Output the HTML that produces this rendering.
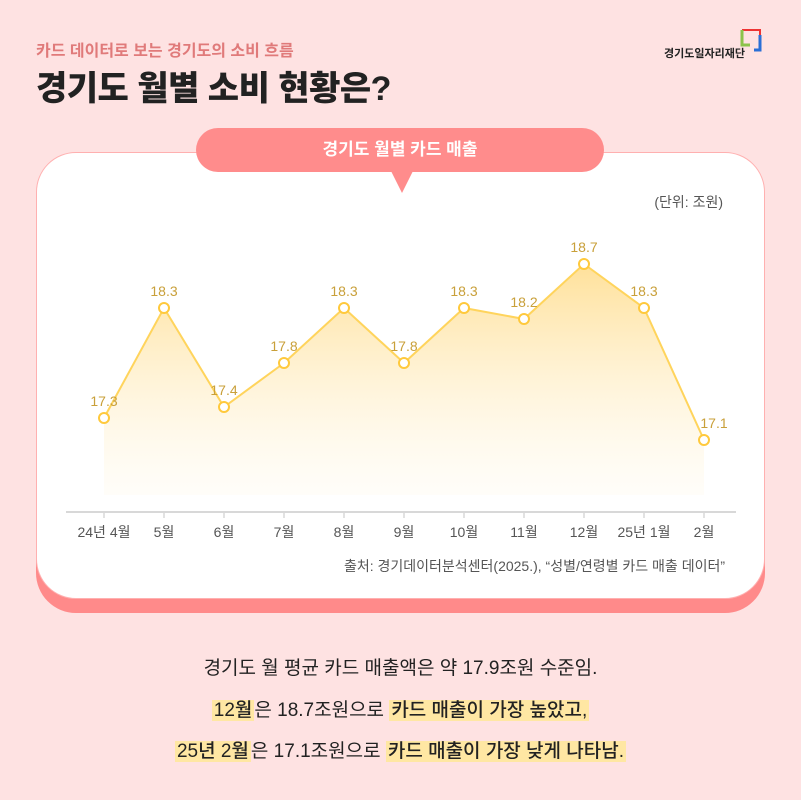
<!DOCTYPE html>
<html><head><meta charset="utf-8">
<style>
body{margin:0;width:801px;height:800px;background:#fee2e2;position:relative;overflow:hidden;font-family:"Liberation Sans","Noto Sans CJK KR",sans-serif;}
.abs{position:absolute;}
.hl{background:#ffe7a3;padding:0 2px;font-weight:500;}
.bt{position:absolute;left:0;width:801px;text-align:center;font-size:19px;color:#222;}
</style></head><body>
<div class="abs" style="left:36px;top:37px;font-size:16px;font-weight:bold;color:#e07a7a;">카드 데이터로 보는 경기도의 소비 흐름</div>
<div class="abs" style="left:36px;top:61px;font-size:34px;font-weight:900;color:#222;letter-spacing:-0.5px;">경기도 월별 소비 현황은?</div>
<div class="abs" style="left:660px;top:27px;width:110px;height:40px;">
<svg width="110" height="40"><path d="M82 3H100V8" stroke="#e33" stroke-width="2" fill="none"/><path d="M82 3V18H90" stroke="#8bc34a" stroke-width="3" fill="none"/><path d="M100 8V23H94" stroke="#2a6fd6" stroke-width="3" fill="none"/></svg>
<div class="abs" style="left:4px;top:18px;font-size:11px;font-weight:bold;color:#222;">경기도일자리재단</div></div>
<div class="abs" style="left:36px;top:168px;width:729px;height:445px;background:#ff8a8a;border-radius:40px;"></div>
<div class="abs" style="left:36px;top:152px;width:727px;height:445px;background:#fff;border:1px solid #ffb0b0;border-radius:40px;"></div>
<div class="abs" style="left:196px;top:128px;width:408px;height:44px;background:#ff8c8c;border-radius:22px;color:#fff;font-size:17px;font-weight:bold;text-align:center;line-height:44px;">경기도 월별 카드 매출</div>
<div class="abs" style="left:391px;top:171px;width:0;height:0;border-left:11px solid transparent;border-right:11px solid transparent;border-top:22px solid #ff8c8c;"></div>
<div class="abs" style="left:620px;top:192px;width:103px;text-align:right;font-size:14px;color:#555;">(단위: 조원)</div>
<svg class="abs" style="left:0;top:0" width="801" height="600">
<defs><linearGradient id="g" x1="0" y1="0" x2="0" y2="1"><stop offset="0" stop-color="#ffd980" stop-opacity="0.8"/><stop offset="1" stop-color="#fff3d6" stop-opacity="0.15"/></linearGradient></defs>
<g id="plot"></g></svg>
<div class="abs" style="left:260px;top:556px;width:465px;text-align:right;font-size:14px;color:#555;">출처: 경기데이터분석센터(2025.), “성별/연령별 카드 매출 데이터”</div>
<div class="bt" style="top:653px;">경기도 월 평균 카드 매출액은 약 17.9조원 수준임.</div>
<div class="bt" style="top:695px;"><span class="hl">12월</span>은 18.7조원으로 <span class="hl">카드 매출이 가장 높았고,</span></div>
<div class="bt" style="top:736px;"><span class="hl">25년 2월</span>은 17.1조원으로 <span class="hl">카드 매출이 가장 낮게 나타남.</span></div>
<script>
const categories=["24년 4월","5월","6월","7월","8월","9월","10월","11월","12월","25년 1월","2월"];
const values=[17.3,18.3,17.4,17.8,18.3,17.8,18.3,18.2,18.7,18.3,17.1];
const NS="http://www.w3.org/2000/svg";
const g=document.getElementById('plot');
const x=i=>104+i*60;
const y=v=>418-(v-17.3)*110;
const base=495, axisY=512;
function mk(t,a){const e=document.createElementNS(NS,t);for(const k in a)e.setAttribute(k,a[k]);g.appendChild(e);return e;}
let pts=values.map((v,i)=>x(i)+","+y(v)).join(" ");
const area=mk('polygon',{points:x(0)+","+base+" "+pts+" "+x(values.length-1)+","+base,fill:"url(#g)"});


const ax=mk('line',{x1:66,x2:736,y1:axisY,y2:axisY,stroke:"#d8d8d8","stroke-width":2});


const ln=mk('polyline',{points:pts,fill:"none",stroke:"#ffd45c","stroke-width":2});


categories.forEach((c,i)=>{
 const tk=mk('line',{x1:x(i),x2:x(i),y1:axisY,y2:axisY+6,stroke:"#d8d8d8","stroke-width":1.5});
 
 
 const t=mk('text',{x:x(i),y:537,"text-anchor":"middle","font-size":14,fill:"#555"});
 t.textContent=c;
 
 
});
values.forEach((v,i)=>{
 const p=mk('circle',{cx:x(i),cy:y(v),r:5,fill:"#fff",stroke:"#ffc93c","stroke-width":2});
 
 
 const t=mk('text',{x:x(i)+(i==values.length-1?10:0),y:y(v)-12,"text-anchor":"middle","font-size":14,fill:"#c9a03a"});
 t.textContent=v.toFixed(1);
 
 
});
</script>
</body></html>
